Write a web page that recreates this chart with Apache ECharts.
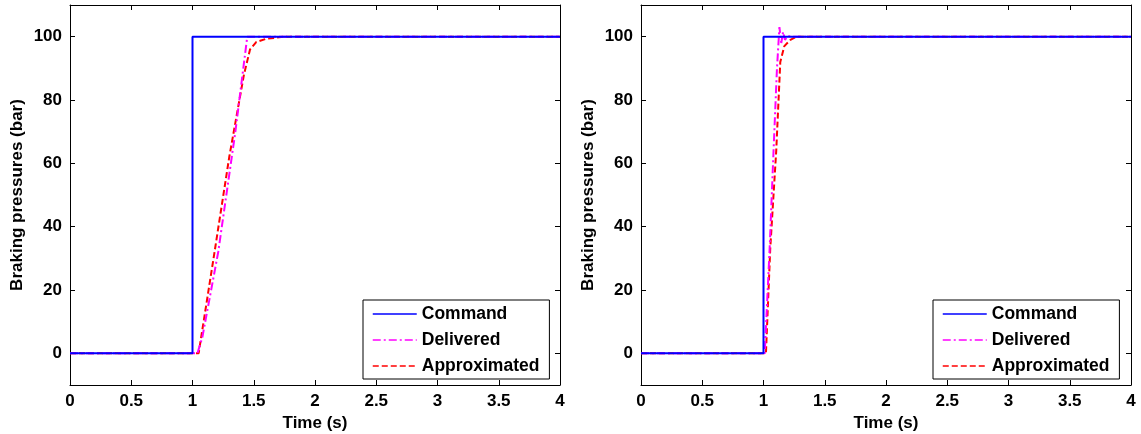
<!DOCTYPE html>
<html>
<head>
<meta charset="utf-8">
<script src="https://cdn.jsdelivr.net/npm/echarts@6/dist/echarts.min.js"></script>
<style>
  html, body { margin: 0; padding: 0; background: #fff; }
  #container { width: 1141px; height: 434px; }
</style>
</head>
<body>
<div id="container"></div>
<script>
// datos: [tiempo (s), presion (bar)]
var seriesNames = ['Command', 'Delivered', 'Approximated'];
var xTicks = [0, 0.5, 1, 1.5, 2, 2.5, 3, 3.5, 4];
var yTicks = [0, 20, 40, 60, 80, 100];

// panel izquierdo
var commandLeft = [[0, 0], [1, 0], [1, 100], [4, 100]];
var deliveredLeft = [[0, 0], [1.04, 0], [1.08, 5], [1.21, 32], [1.35, 70], [1.447, 100], [4, 100]];
var approxLeft = [[0, 0], [1.05, 0], [1.18, 32], [1.30, 62], [1.42, 88], [1.47, 96], [1.52, 98.3], [1.6, 99.3], [1.75, 100], [4, 100]];

// panel derecho
var commandRight = [[0, 0], [1, 0], [1, 100], [4, 100]];
var deliveredRight = [[0, 0], [1.01, 0], [1.05, 33], [1.082, 64], [1.11, 90], [1.13, 103], [1.145, 98], [1.16, 101.5], [1.175, 99], [1.2, 100.3], [1.22, 100], [4, 100]];
var approxRight = [[0, 0], [1.02, 0], [1.055, 33], [1.104, 64], [1.137, 92], [1.17, 97], [1.22, 99], [1.27, 100], [4, 100]];

document.addEventListener('DOMContentLoaded', function () {
    var myChart = echarts.init(document.getElementById('container'));
    var font = 'Liberation Sans, Arial, sans-serif';
    var txt = { fontFamily: font, fontWeight: 'bold', fontSize: 17, color: '#000' };

    var grids = [
        { left: 70, top: 5, width: 490, height: 380, outerBoundsMode: 'none' },
        { left: 641, top: 5, width: 490, height: 380, outerBoundsMode: 'none' }
    ];

    var xAxes = [], yAxes = [];
    grids.forEach(function (g, i) {
        // eje principal inferior
        xAxes.push({
            gridIndex: i, type: 'value', min: 0, max: 4,
            name: 'Time (s)', nameLocation: 'middle', nameGap: 26,
            nameTextStyle: txt,
            axisLine: { show: true, onZero: false, lineStyle: { color: '#000', width: 1 } },
            axisTick: { inside: true, length: 5, customValues: xTicks, lineStyle: { color: '#000' } },
            axisLabel: Object.assign({ customValues: xTicks, margin: 8 }, txt),
            splitLine: { show: false }
        });
        // eje superior (solo marcas)
        xAxes.push({
            gridIndex: i, type: 'value', min: 0, max: 4, position: 'top',
            axisLine: { show: true, onZero: false, lineStyle: { color: '#000', width: 1 } },
            axisTick: { inside: true, length: 5, customValues: xTicks, lineStyle: { color: '#000' } },
            axisLabel: { show: false },
            splitLine: { show: false }
        });
        yAxes.push({
            gridIndex: i, type: 'value', min: -10, max: 110,
            name: 'Braking pressures (bar)', nameLocation: 'middle', nameGap: 44,
            nameTextStyle: txt,
            axisLine: { show: true, onZero: false, lineStyle: { color: '#000', width: 1 } },
            axisTick: { inside: true, length: 5, customValues: yTicks, lineStyle: { color: '#000' } },
            axisLabel: Object.assign({ customValues: yTicks, margin: 8 }, txt),
            splitLine: { show: false }
        });
        yAxes.push({
            gridIndex: i, type: 'value', min: -10, max: 110, position: 'right',
            axisLine: { show: true, onZero: false, lineStyle: { color: '#000', width: 1 } },
            axisTick: { inside: true, length: 5, customValues: yTicks, lineStyle: { color: '#000' } },
            axisLabel: { show: false },
            splitLine: { show: false }
        });
    });

    var styles = [
        { color: '#0000ff', type: 'solid' },
        { color: '#ff00ff', type: [8, 3, 2, 3] },
        { color: '#ff0000', type: [6, 3] }
    ];
    var panels = [
        [commandLeft, deliveredLeft, approxLeft],
        [commandRight, deliveredRight, approxRight]
    ];

    var series = [];
    panels.forEach(function (p, i) {
        p.forEach(function (d, k) {
            series.push({
                name: seriesNames[k], type: 'line', data: d,
                xAxisIndex: i * 2, yAxisIndex: i * 2,
                symbol: 'none', animation: false,
                z: 10 - k,
                itemStyle: { color: styles[k].color },
                lineStyle: { color: styles[k].color, width: 2, type: styles[k].type }
            });
        });
    });

    function legendAt(left) {
        return {
            data: seriesNames, orient: 'vertical', left: left, top: 300,
            padding: [5, 10, 4, 9], itemGap: 8, itemWidth: 44, itemHeight: 14,
            borderColor: '#000', borderWidth: 1, backgroundColor: '#fff',
            selectedMode: false,
            itemStyle: { opacity: 0 },
            lineStyle: { width: 1.5 },
            textStyle: { fontFamily: font, fontWeight: 'bold', fontSize: 17.5, color: '#000' }
        };
    }

    var option = {
        animation: false,
        grid: grids,
        xAxis: xAxes,
        yAxis: yAxes,
        legend: [legendAt(363), legendAt(933)],
        series: series
    };

    myChart.setOption(option);
    window.addEventListener('resize', myChart.resize);
});
</script>
</body>
</html>
